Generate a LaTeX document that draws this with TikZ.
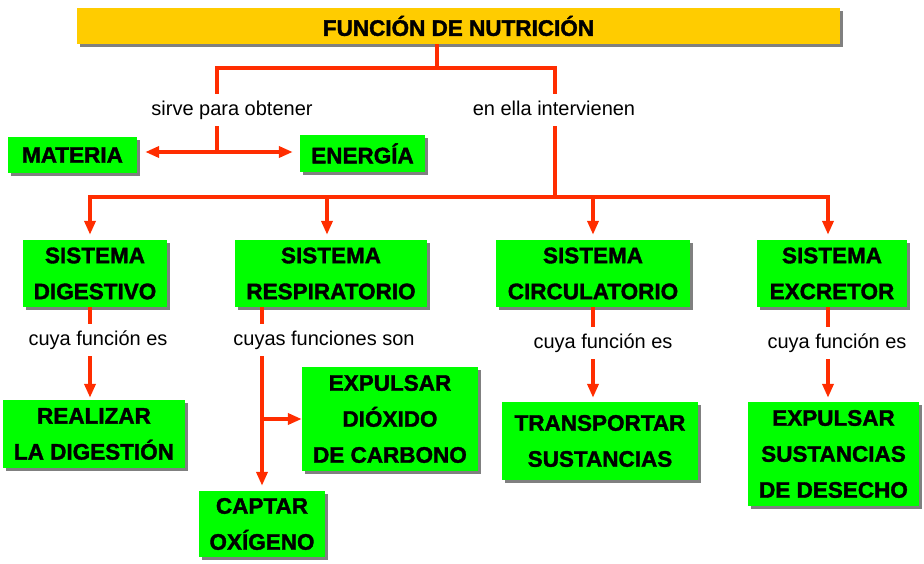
\documentclass[tikz,border=0pt]{standalone}
\usepackage{fontspec}
\setmainfont{Liberation Sans}[BoldFeatures={FakeBold=1.5}]
\usetikzlibrary{arrows.meta,shadows}

\definecolor{rojo}{RGB}{255,45,0}
\definecolor{verde}{RGB}{0,255,0}
\definecolor{amarillo}{RGB}{255,204,0}

\tikzset{
  caja/.style={fill=verde, align=center, inner sep=0pt,
    font=\fontsize{22.5}{36}\selectfont\bfseries,
    drop shadow={shadow xshift=3pt, shadow yshift=-3pt, fill=gray, opacity=1}},
  enlace/.style={font=\fontsize{20}{24}\selectfont, inner xsep=2pt, inner ysep=7pt,
    text height=14.5pt, text depth=4pt},
  linea/.style={rojo, line width=4pt},
  flecha/.style={linea, -{Triangle[length=14pt,width=11pt]}},
}

\begin{document}
\begin{tikzpicture}[x=1pt,y=-1pt]
\useasboundingbox (0,0) rectangle (924,564);

%%%%%%%%%%% cajas
\node[caja, fill=amarillo, minimum width=763pt, minimum height=36pt] (funcion) at (458.5,26) {FUNCIÓN DE NUTRICIÓN};
\node[caja, minimum width=129pt, minimum height=36pt] (materia) at (72.5,155) {MATERIA};
\node[caja, minimum width=125pt, minimum height=37pt] (energia) at (362.5,153.5) {ENERGÍA};
% ---------------    sistemas
\node[caja, minimum width=144pt, minimum height=67pt] (dig) at (95,273.5) {SISTEMA\\DIGESTIVO};
\node[caja, minimum width=192pt, minimum height=67pt] (resp) at (331,273.5) {SISTEMA\\RESPIRATORIO};
\node[caja, minimum width=194pt, minimum height=67pt] (circ) at (593,273.5) {SISTEMA\\CIRCULATORIO};
\node[caja, minimum width=150pt, minimum height=67pt] (excr) at (832,273.5) {SISTEMA\\EXCRETOR};
% ---------------    funciones
\node[caja, minimum width=182pt, minimum height=68pt] (real) at (94,434) {REALIZAR\\LA DIGESTIÓN};
\node[caja, minimum width=176pt, minimum height=104pt] (expd) at (390,419) {EXPULSAR\\DIÓXIDO\\DE CARBONO};
\node[caja, minimum width=126pt, minimum height=66pt] (capt) at (262,524) {CAPTAR\\OXÍGENO};
\node[caja, minimum width=196pt, minimum height=78pt] (trans) at (600,441) {TRANSPORTAR\\SUSTANCIAS};
\node[caja, minimum width=171pt, minimum height=104pt] (exps) at (833.5,454) {EXPULSAR\\SUSTANCIAS\\DE DESECHO};

%%%%%%%%%%% enlaces
\node[enlace] (sirve) at (232,110) {sirve para obtener};
\node[enlace] (enella) at (554,110) {en ella intervienen};
\node[enlace] (cuya1) at (98,340) {cuya función es};
\node[enlace] (cuyas) at (324,340) {cuyas funciones son};
\node[enlace] (cuya2) at (603,343) {cuya función es};
\node[enlace] (cuya3) at (837,343) {cuya función es};

\coordinate (centro) at (437,68);
\coordinate (izq) at (217,68);
\coordinate (der) at (555,68);
\coordinate (medio) at (217,152);
\coordinate (barra) at (0,197);

%%%%%%%%%%% conectores
\draw[linea] (funcion.south -| centro) -- (centro);
\draw[linea] (sirve.north -| izq) |- (der) -- (enella.north -| der);
\draw[linea] (sirve.south -| izq) -- (medio);
\draw[linea, {Triangle[length=14pt,width=11pt]}-{Triangle[length=14pt,width=11pt]}, line width=3.5pt,
  shorten <=8pt, shorten >=7pt] (materia.east |- medio) -- (energia.west |- medio);
\draw[linea] (enella.south -| der) -- (der |- barra);
\draw[linea, line cap=rect] ([xshift=-5pt]dig.north |- barra) -- ([xshift=-4pt]excr.north |- barra);
\foreach \s/\d in {dig/-5pt, resp/-4pt, circ/0pt, excr/-4pt}{
  \draw[flecha, shorten >=5pt] ([xshift=\d]\s.north |- barra) -- ([xshift=\d]\s.north);
}
% ---------------    digestivo
\draw[linea] ([xshift=-5pt]dig.south) -- ([xshift=-5pt]dig.south |- cuya1.north);
\draw[flecha, shorten >=2pt] ([xshift=-4pt]real.north |- cuya1.south) -- ([xshift=-4pt]real.north);
% ---------------    respiratorio
\draw[linea] (capt.north |- resp.south) -- (capt.north |- cuyas.north);
\draw[flecha, shorten >=5pt] (capt.north |- cuyas.south) -- (capt.north);
\draw[flecha] (capt.north |- expd.west) -- (expd.west);
% ---------------    circulatorio
\draw[linea] (circ.south) -- (circ.south |- cuya2.north);
\draw[flecha, shorten >=4pt] (circ.south |- cuya2.south) -- (circ.south |- trans.north);
% ---------------    excretor
\draw[linea] ([xshift=-4pt]excr.south) -- ([xshift=-4pt]excr.south |- cuya3.north);
\draw[flecha, shorten >=4pt] ([xshift=-4pt]excr.south |- cuya3.south) -- ([xshift=-4pt]excr.south |- exps.north);
\end{tikzpicture}
\end{document}
